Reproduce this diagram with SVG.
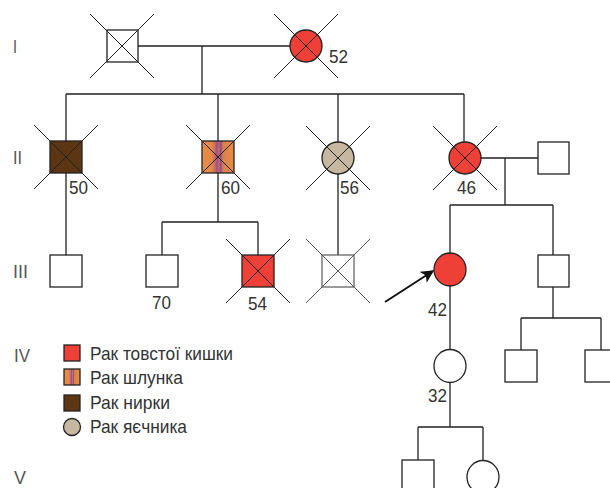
<svg xmlns="http://www.w3.org/2000/svg" width="610" height="488" viewBox="0 0 610 488">
<style>
.ln{stroke:#222;stroke-width:1.3;fill:none}
.nd{stroke:#222;stroke-width:1.3}
.x{stroke:#222;stroke-width:1}
.xg{stroke:#555;stroke-width:1}
.t{font-family:"Liberation Sans",Arial,sans-serif;font-size:19px;fill:#333}
.g{font-family:"Liberation Sans",Arial,sans-serif;font-size:19px;fill:#555}
</style>
<defs>
<linearGradient id="stripe" x1="0" y1="0" x2="1" y2="0">
<stop offset="0" stop-color="#e88c46"/>
<stop offset="0.3" stop-color="#e3894a"/>
<stop offset="0.4" stop-color="#c86e62"/>
<stop offset="0.47" stop-color="#9a4e8c"/>
<stop offset="0.53" stop-color="#c77060"/>
<stop offset="0.58" stop-color="#8e4a92"/>
<stop offset="0.66" stop-color="#d98048"/>
<stop offset="1" stop-color="#e98e44"/>
</linearGradient>
<marker id="ah" viewBox="0 0 10 10" refX="9" refY="5" markerWidth="13" markerHeight="13" markerUnits="userSpaceOnUse" orient="auto">
<path d="M0,0 L10,5 L0,10 L2.5,5 z" fill="#111"/>
</marker>
</defs>

<g id="gen-labels">
<text class="g" x="13" y="53" textLength="4" lengthAdjust="spacingAndGlyphs">I</text>
<text class="g" x="13" y="164" textLength="9" lengthAdjust="spacingAndGlyphs">II</text>
<text class="g" x="13" y="278" textLength="15" lengthAdjust="spacingAndGlyphs">III</text>
<text class="g" x="14" y="362" textLength="16" lengthAdjust="spacingAndGlyphs">IV</text>
<text class="g" x="14" y="484" textLength="12" lengthAdjust="spacingAndGlyphs">V</text>
</g>

<g id="connectors">
<path class="ln" d="M138,46 H290 M202,46 V94 M66,94 H464 M66,94 V141 M218,94 V141 M338,94 V142 M464,94 V142"/>
<path class="ln" d="M66,173 V255"/>
<path class="ln" d="M218,173 V222 M162,222 H258 M162,222 V255 M258,222 V255"/>
<path class="ln" d="M338,174 V255"/>
<path class="ln" d="M480,158 H538 M505,158 V205 M450,205 H553 M450,205 V253 M553,205 V255"/>
<path class="ln" d="M450,286 V350 M553,287 V318 M521,318 H601 M521,318 V350 M601,318 V350"/>
<path class="ln" d="M450,382 V427 M418,427 H483 M418,427 V460 M483,427 V460"/>
<line x1="385" y1="302" x2="433" y2="271" stroke="#111" stroke-width="2" marker-end="url(#ah)"/>
</g>

<g id="I-1">
<rect class="nd" x="107" y="30" width="31" height="32" fill="#fff"/>
<line class="x" x1="90" y1="14" x2="154" y2="78"/><line class="x" x1="154" y1="14" x2="90" y2="78"/>
</g>
<g id="I-2">
<circle class="nd" cx="306" cy="46" r="16" fill="#ee4037"/>
<line class="x" x1="274" y1="14" x2="338" y2="78"/><line class="x" x1="338" y1="14" x2="274" y2="78"/>
<text class="t" x="329" y="63" textLength="19" lengthAdjust="spacingAndGlyphs">52</text>
</g>

<g id="II-1">
<rect class="nd" x="50" y="141" width="32" height="32" fill="#5c3613"/>
<line class="x" x1="34" y1="125" x2="98" y2="189"/><line class="x" x1="98" y1="125" x2="34" y2="189"/>
<text class="t" x="69" y="194" textLength="19" lengthAdjust="spacingAndGlyphs">50</text>
</g>
<g id="II-2">
<rect class="nd" x="202" y="141" width="32" height="32" fill="url(#stripe)"/>
<line class="x" x1="186" y1="125" x2="250" y2="189"/><line class="x" x1="250" y1="125" x2="186" y2="189"/>
<text class="t" x="221" y="194" textLength="19" lengthAdjust="spacingAndGlyphs">60</text>
</g>
<g id="II-3">
<circle class="nd" cx="338" cy="158" r="16" fill="#c6b7a0"/>
<line class="x" x1="306" y1="126" x2="370" y2="190"/><line class="x" x1="370" y1="126" x2="306" y2="190"/>
<text class="t" x="340" y="194" textLength="19" lengthAdjust="spacingAndGlyphs">56</text>
</g>
<g id="II-4">
<circle class="nd" cx="465" cy="158" r="16" fill="#ee4037"/>
<line class="x" x1="433" y1="126" x2="497" y2="190"/><line class="x" x1="497" y1="126" x2="433" y2="190"/>
<text class="t" x="457" y="194" textLength="19" lengthAdjust="spacingAndGlyphs">46</text>
</g>
<g id="II-5">
<rect class="nd" x="538" y="142" width="31" height="32" fill="#fff"/>
</g>

<g id="III-1">
<rect class="nd" x="50" y="255" width="32" height="32" fill="#fff"/>
</g>
<g id="III-2">
<rect class="nd" x="146" y="255" width="32" height="32" fill="#fff"/>
<text class="t" x="152" y="309" textLength="19" lengthAdjust="spacingAndGlyphs">70</text>
</g>
<g id="III-3">
<rect class="nd" x="242" y="255" width="32" height="32" fill="#ee4037"/>
<line class="x" x1="226" y1="239" x2="290" y2="303"/><line class="x" x1="290" y1="239" x2="226" y2="303"/>
<text class="t" x="248" y="310" textLength="19" lengthAdjust="spacingAndGlyphs">54</text>
</g>
<g id="III-4">
<rect x="322" y="255" width="32" height="32" fill="#fff" stroke="#666" stroke-width="1.3"/>
<line class="xg" x1="306" y1="239" x2="370" y2="303"/><line class="xg" x1="370" y1="239" x2="306" y2="303"/>
</g>
<g id="III-5">
<ellipse class="nd" cx="450" cy="269.5" rx="16" ry="16.5" fill="#ee4037"/>
<text class="t" x="428" y="316" textLength="19" lengthAdjust="spacingAndGlyphs">42</text>
</g>
<g id="III-6">
<rect class="nd" x="538" y="255" width="31" height="32" fill="#fff"/>
</g>

<g id="IV-1">
<ellipse class="nd" cx="450" cy="366" rx="16" ry="16.5" fill="#fff"/>
<text class="t" x="428" y="402" textLength="19" lengthAdjust="spacingAndGlyphs">32</text>
</g>
<g id="IV-2">
<rect class="nd" x="505" y="350" width="32" height="32" fill="#fff"/>
</g>
<g id="IV-3">
<rect class="nd" x="585" y="350" width="32" height="32" fill="#fff"/>
</g>

<g id="V-1">
<rect class="nd" x="402" y="460" width="32" height="32" fill="#fff"/>
</g>
<g id="V-2">
<ellipse class="nd" cx="483" cy="477" rx="16" ry="16.5" fill="#fff"/>
</g>

<g id="legend">
<rect class="nd" x="64" y="345" width="16" height="16" fill="#ee4037"/>
<rect class="nd" x="64" y="369" width="16" height="16" fill="url(#stripe)"/>
<rect class="nd" x="64" y="395" width="16" height="16" fill="#5c3613"/>
<circle class="nd" cx="72" cy="427" r="8.5" fill="#c6b7a0"/>
<text class="t" x="90" y="360" textLength="143" lengthAdjust="spacingAndGlyphs">Рак товстої кишки</text>
<text class="t" x="90" y="384" textLength="93" lengthAdjust="spacingAndGlyphs">Рак шлунка</text>
<text class="t" x="90" y="409" textLength="80" lengthAdjust="spacingAndGlyphs">Рак нирки</text>
<text class="t" x="90" y="433" textLength="97" lengthAdjust="spacingAndGlyphs">Рак яєчника</text>
</g>
</svg>
